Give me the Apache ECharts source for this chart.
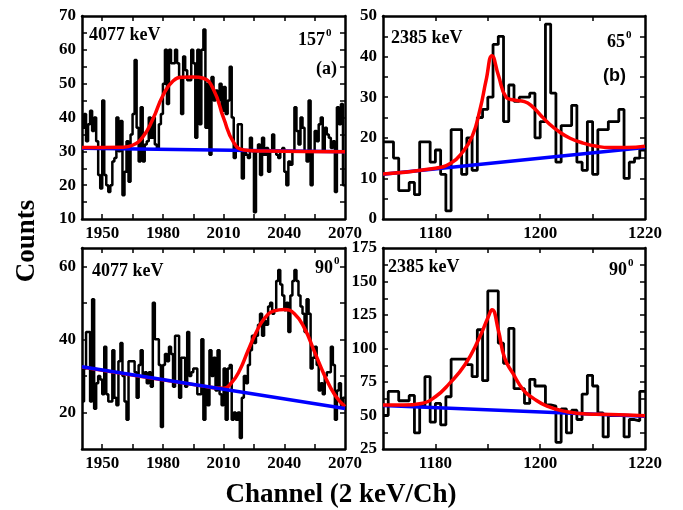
<!DOCTYPE html>
<html>
<head>
<meta charset="utf-8">
<script src="https://cdn.jsdelivr.net/npm/echarts@6/dist/echarts.min.js"></script>
<style>html,body{margin:0;padding:0;background:#fff}#main{width:683px;height:510px}</style>
</head>
<body>
<div id="main"></div>
<script>
// channel spectra, one value per channel
var startA = 1940;
var countsA = [37, 41, 33, 38, 42, 36, 40, 33, 23, 19,
  45, 23, 20, 18, 20, 27, 28, 40, 30, 39,
  17, 24, 33, 21, 35, 41, 57, 37, 27, 43,
  27, 32, 33, 40, 34, 40, 32, 31, 38, 41,
  50, 60, 44, 60, 56, 56, 60, 56, 52, 41,
  58, 54, 51, 51, 60, 56, 34, 60, 38, 60,
  66, 37, 50, 29, 52, 45, 48, 45, 50, 42,
  49, 41, 45, 55, 40, 28, 31, 38, 38, 22,
  30, 29, 28, 34, 30, 12, 30, 32, 23, 34,
  29, 31, 24, 30, 35, 30, 29, 28, 30, 31,
  24, 20, 27, 26, 30, 43, 36, 32, 40, 37,
  30, 27, 45, 20, 30, 36, 33, 38, 40, 30,
  37, 35, 34, 31, 33, 18, 43, 38, 44, 20];
var startB = 1170;
var countsB = [19, 19, 15, 7, 7, 9, 6, 19, 19, 14,
  17, 11, 2, 22, 22, 11, 20, 12, 25, 27,
  30, 43, 45, 24, 33, 29, 30, 30, 31, 20,
  24, 48, 31, 14, 23, 23, 28, 14, 12, 24,
  11, 22, 22, 24, 24, 27, 10, 14, 15, 17];
var startC = 1940;
var countsC = [23, 32, 42, 42, 23, 51, 21, 28, 30, 29,
  25, 38, 25, 23, 23, 37, 24, 22, 34, 39,
  30, 23, 18, 34, 34, 34, 31, 24, 33, 37,
  30, 31, 28, 31, 27, 50, 40, 40, 33, 16,
  33, 36, 34, 38, 36, 27, 41, 41, 24, 35,
  35, 27, 42, 30, 31, 32, 32, 25, 25, 40,
  18, 27, 22, 37, 30, 35, 26, 37, 25, 22,
  32, 18, 32, 33, 18, 20, 18, 20, 13, 24,
  30, 28, 33, 37, 41, 39, 41, 44, 47, 41,
  45, 44, 49, 50, 47, 48, 56, 59, 55, 52,
  48, 50, 42, 52, 56, 59, 56, 52, 49, 47,
  42, 51, 47, 32, 35, 38, 33, 26, 28, 25,
  30, 31, 31, 38, 33, 18, 26, 28, 22, 24];
var startD = 1170;
var countsD = [50, 68, 68, 61, 61, 65, 37, 57, 79, 45,
  59, 43, 64, 92, 92, 92, 88, 79, 114, 76,
  143, 143, 104, 89, 115, 70, 70, 59, 77, 72,
  72, 58, 57, 30, 55, 37, 54, 47, 66, 80,
  72, 52, 34, 50, 50, 50, 34, 47, 46, 68];

// fitted curves (red) and backgrounds (blue)
var fitA = [[1940, 31.1], [1960, 31.2], [1965, 31.8], [1970, 34.2], [1975, 39.5], [1980, 46.5], [1985, 50.8], [1990, 51.9], [1995, 52], [2000, 51.6], [2005, 48.3], [2010, 39.8], [2015, 32.6], [2020, 30.4], [2030, 30.1], [2070, 29.9]];
var bgA = [[1940, 30.9], [2070, 29.9]];
var fitB = [[1170, 11.1], [1180, 12.5], [1183, 13.8], [1185, 16.2], [1187, 20.3], [1188.5, 26.9], [1189.7, 34.3], [1190.8, 40.2], [1192, 35.5], [1193.5, 30], [1195, 29.3], [1197, 28.9], [1198.5, 27.7], [1200, 25.7], [1201.6, 23.6], [1203.5, 21.6], [1205.7, 19.9], [1208.2, 18.7], [1210.8, 17.9], [1213.3, 17.6], [1216.5, 17.6], [1220, 17.9]];
var bgB = [[1170, 11], [1220, 17.6]];
var fitC = [[1940, 32.4], [2000, 27.2], [2010, 26.6], [2014, 28.2], [2018, 31.6], [2022, 36.8], [2026, 41.8], [2030, 45.6], [2035, 47.8], [2040, 48.2], [2045, 47], [2050, 43], [2055, 36.5], [2060, 30], [2065, 24.8], [2070, 21.6]];
var bgC = [[1940, 32.5], [2070, 21.1]];
var fitD = [[1170, 57.8], [1174, 57.8], [1177.3, 59], [1180, 64], [1182.7, 74], [1185.6, 87.7], [1188.2, 106.3], [1190.1, 123.7], [1190.8, 129], [1192, 113.8], [1193.2, 93], [1194.8, 81.4], [1196.8, 69], [1198.7, 62.8], [1201.3, 57], [1205.1, 52.8], [1208.9, 51.1], [1213.4, 50.8], [1220, 49.8]];
var bgD = [[1170, 57.5], [1220, 49.5]];

// ticks and labels
var xTicksAC = [1950, 1965, 1980, 1995, 2010, 2025, 2040, 2055];
var xLabelsAC = [1950, 1980, 2010, 2040, 2070];
var xTicksBD = [1180, 1190, 1200, 1210];
var xLabelsBD = [1180, 1200, 1220];
var yTicksA = [15, 20, 25, 30, 35, 40, 45, 50, 55, 60, 65];
var yLabelsA = [10, 20, 30, 40, 50, 60, 70];
var yTicksB = [5, 10, 15, 20, 25, 30, 35, 40, 45];
var yLabelsB = [0, 10, 20, 30, 40, 50];
var yTicksC = [20, 30, 40, 50, 60];
var yLabelsC = [20, 40, 60];
var yTicksD = [37.5, 50, 62.5, 75, 87.5, 100, 112.5, 125, 137.5, 150, 162.5];
var yLabelsD = [25, 50, 75, 100, 125, 150, 175];

var SERIF = 'Liberation Serif';

function hist(x0, counts) {
  var d = counts.map(function (v, i) { return [x0 + i, v]; });
  d.push([x0 + counts.length, counts[counts.length - 1]]);
  return d;
}

function axis(grid, pos, min, max, ticks, labels) {
  var showLabel = pos === 'bottom' || pos === 'left';
  return {
    type: 'value', gridIndex: grid, position: pos, min: min, max: max,
    axisLine: {show: true, onZero: false, lineStyle: {color: '#000', width: 2.5}},
    axisTick: {show: true, inside: true, length: 5, customValues: ticks, lineStyle: {color: '#000', width: 1.5}},
    axisLabel: {show: showLabel, customValues: labels, color: '#000', fontFamily: SERIF, fontWeight: 'bold', fontSize: 17, margin: 6,
      formatter: function (v) { return String(v); }},
    splitLine: {show: false}
  };
}

function histSeries(i, x0, counts, w) {
  return {type: 'line', xAxisIndex: i * 2, yAxisIndex: i * 2, data: hist(x0, counts), step: 'end',
    symbol: 'none', lineStyle: {color: '#000', width: w}, z: 1};
}
function curve(i, data, color, z) {
  return {type: 'line', xAxisIndex: i * 2, yAxisIndex: i * 2, data: data, smooth: 0.5,
    symbol: 'none', lineStyle: {color: color, width: 3.5}, z: z};
}

function txt(text, x, y, size, align, family) {
  return {type: 'text', x: x, y: y, z: 100,
    style: {text: text, fill: '#000', align: align || 'left', verticalAlign: 'middle',
      font: 'bold ' + size + 'px "' + (family || SERIF) + '"'}};
}

var chart = echarts.init(document.getElementById('main'));
chart.setOption({
  animation: false,
  grid: [
    {left: 82, top: 16, width: 263, height: 203},
    {left: 383, top: 16, width: 262, height: 203},
    {left: 82, top: 248, width: 263, height: 201},
    {left: 383, top: 248, width: 262, height: 201}
  ],
  xAxis: [
    axis(0, 'bottom', 1940, 2070, xTicksAC, xLabelsAC), axis(0, 'top', 1940, 2070, xTicksAC, []),
    axis(1, 'bottom', 1170, 1220, xTicksBD, xLabelsBD), axis(1, 'top', 1170, 1220, xTicksBD, []),
    axis(2, 'bottom', 1940, 2070, xTicksAC, xLabelsAC), axis(2, 'top', 1940, 2070, xTicksAC, []),
    axis(3, 'bottom', 1170, 1220, xTicksBD, xLabelsBD), axis(3, 'top', 1170, 1220, xTicksBD, [])
  ],
  yAxis: [
    axis(0, 'left', 10, 70, yTicksA, yLabelsA), axis(0, 'right', 10, 70, yTicksA, []),
    axis(1, 'left', 0, 50, yTicksB, yLabelsB), axis(1, 'right', 0, 50, yTicksB, []),
    axis(2, 'left', 10, 65, yTicksC, yLabelsC), axis(2, 'right', 10, 65, yTicksC, []),
    axis(3, 'left', 25, 175, yTicksD, yLabelsD), axis(3, 'right', 25, 175, yTicksD, [])
  ],
  series: [
    histSeries(0, startA, countsA, 2.5),
    histSeries(1, startB, countsB, 2.8),
    histSeries(2, startC, countsC, 2.5),
    histSeries(3, startD, countsD, 2.8),
    curve(0, bgA, '#0000ff', 5), curve(0, fitA, '#ff0000', 6),
    curve(1, bgB, '#0000ff', 5), curve(1, fitB, '#ff0000', 6),
    curve(2, fitC, '#ff0000', 5), curve(2, bgC, '#0000ff', 6),
    curve(3, bgD, '#0000ff', 5), curve(3, fitD, '#ff0000', 6)
  ],
  graphic: [
    txt('4077 keV', 89, 35, 18),
    txt('157', 325, 40, 18, 'right'), txt('0', 326, 33, 11),
    txt('(a)', 337, 69, 18, 'right'),
    txt('2385 keV', 391, 38, 18),
    txt('65', 625, 42, 18, 'right'), txt('0', 626, 35, 11),
    txt('(b)', 626, 76, 18, 'right', 'Liberation Sans'),
    txt('4077 keV', 92, 271, 18),
    txt('90', 333, 268, 18, 'right'), txt('0', 334, 261, 11),
    txt('2385 keV', 388, 267, 18),
    txt('90', 627, 270, 18, 'right'), txt('0', 628, 263, 11),
    {type: 'text', x: 27, y: 241, rotation: Math.PI / 2, z: 100,
      style: {text: 'Counts', fill: '#000', align: 'center', verticalAlign: 'middle', font: 'bold 27px "' + SERIF + '"'}},
    txt('Channel (2 keV/Ch)', 341, 495, 27, 'center')
  ]
});
</script>
</body>
</html>
